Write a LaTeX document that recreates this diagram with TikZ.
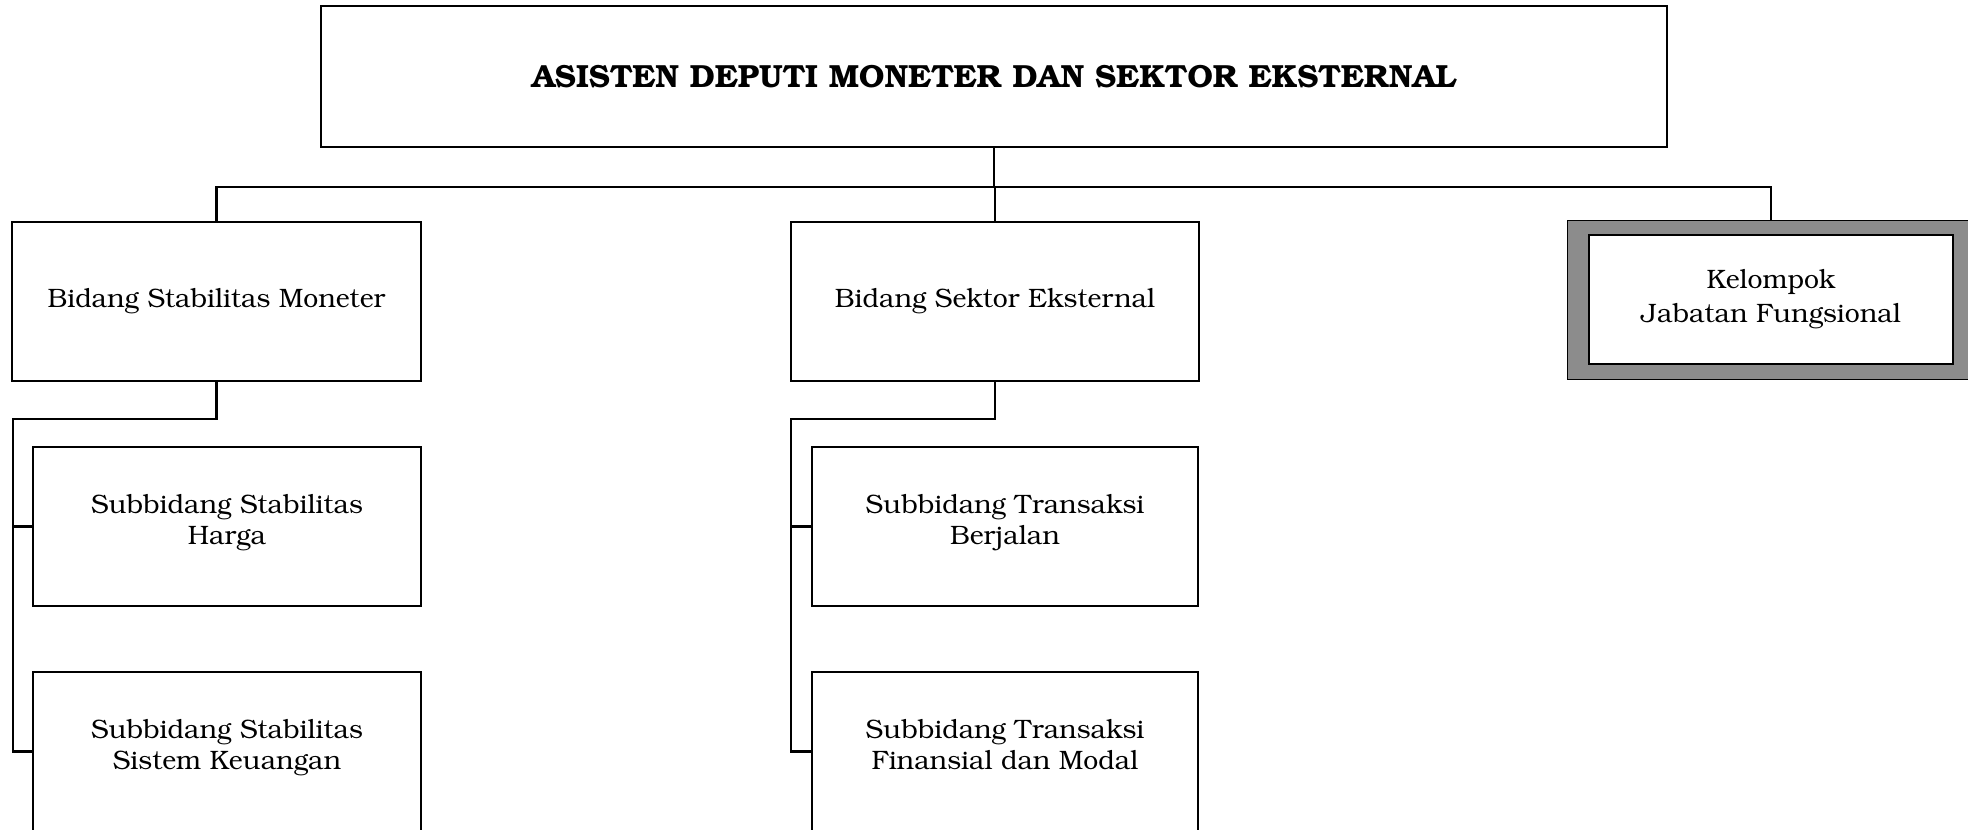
\documentclass[tikz,border=0pt]{standalone}
\usepackage[T1]{fontenc}
\usepackage{bookman}
\begin{document}
\begin{tikzpicture}[x=1pt,y=-1pt,
  box/.style={draw=black,line width=1.8pt,rectangle,inner sep=0pt,align=center,font=\fontsize{26.6}{31.5}\selectfont},
  subbox/.style={box,line width=2.6pt,text depth=14pt},
  conn/.style={draw=black,line width=2.8pt,line cap=rect}]
\useasboundingbox (0,0) rectangle (1968,830);
\fill[white] (0,0) rectangle (1968,830);

\node[box,minimum width=1346pt,minimum height=141pt,font=\fontsize{32}{38}\bfseries\selectfont] (top) at (994,76.5) {ASISTEN DEPUTI MONETER DAN SEKTOR EKSTERNAL};

\node[box,minimum width=409pt,minimum height=159pt] (bsm) at (216.5,301.5) {Bidang Stabilitas Moneter};
\node[box,minimum width=408pt,minimum height=159pt] (bse) at (995,301.5) {Bidang Sektor Eksternal};

% Kelompok Jabatan Fungsional with textured border
\node[draw=black,line width=1pt,fill=black!45,minimum width=408pt,minimum height=159pt,inner sep=0pt] (kjf) at (1771,299.5) {};
\node[box,fill=white,line width=2.4pt,minimum width=364pt,minimum height=129pt,font=\fontsize{26.6}{34}\selectfont] (kjfin) at (1771,299.5) {Kelompok\\Jabatan Fungsional};

\node[subbox,minimum width=388pt,minimum height=159pt] (s1) at (227,526.5) {Subbidang Stabilitas\\Harga};
\node[subbox,minimum width=388pt,minimum height=159pt] (s2) at (227,751.5) {Subbidang Stabilitas\\Sistem Keuangan};
\node[subbox,minimum width=386pt,minimum height=159pt] (t1) at (1005,526.5) {Subbidang Transaksi\\Berjalan};
\node[subbox,minimum width=386pt,minimum height=159pt] (t2) at (1005,751.5) {Subbidang Transaksi\\Finansial dan Modal};

% top connectors
\coordinate (j) at (994,187);
\draw[conn] (top.south) -- (j);
\draw[conn] (bsm.north) |- (j) -| (kjf.north);
\draw[conn] (bse.north) -- (bse.north |- j);

% left branch
\coordinate (l1) at (13,419);
\draw[conn] (bsm.south) |- (l1) |- (s2.west);
\draw[conn] (l1 |- s1.west) -- (s1.west);

% middle branch
\coordinate (m1) at (791,419);
\draw[conn] (bse.south) |- (m1) |- (t2.west);
\draw[conn] (m1 |- t1.west) -- (t1.west);
\end{tikzpicture}
\end{document}
